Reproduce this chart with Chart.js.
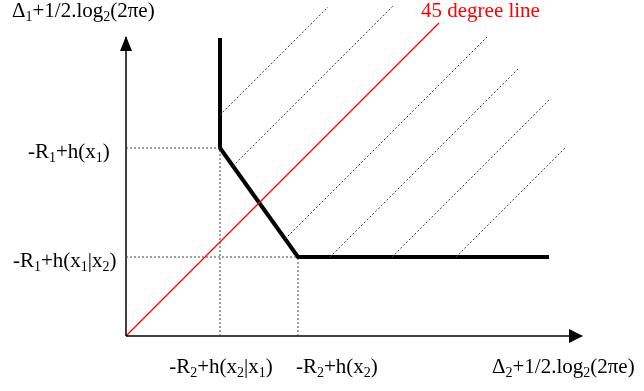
<!DOCTYPE html>
<html>
<head>
<meta charset="utf-8">
<script src="https://cdn.jsdelivr.net/npm/chart.js@4.4.1/dist/chart.umd.min.js"></script>
<style>
  html, body { margin: 0; padding: 0; background: #fff; }
  #wrap { width: 644px; height: 391px; position: relative; }
</style>
</head>
<body>
<div id="wrap"><canvas id="regionChart"></canvas></div>
<script>
// same unit on both axes, so the diagonal really is 45 degrees
const X_MAX = 518;
const Y_MAX = 336;
const xAxisEnd = 456;
const yAxisEnd = 299;

// corner points of the region + their labels ("_" = next char subscript)
const xTicks = [94, 172];
const yTicks = [188, 79];
const xTickLabels = ["-R_2+h(x_2|x_1)", "-R_2+h(x_2)"];
const yTickLabels = ["-R_1+h(x_1)", "-R_1+h(x_1|x_2)"];
const xTitle = "Δ_2+1/2.log_2(2πe)";
const yTitle = "Δ_1+1/2.log_2(2πe)";
const diagLabel = "45 degree line";

// region boundary (thick line)
const boundaryX = [94, 94, 172, 423];
const boundaryY = [298, 188, 79, 79];

// 45 degree line
const diagX = [0, 313];
const diagY = [0, 313];

// hatching: start on the boundary, run up to the right
const hatchX0 = [94, 107, 159, 204, 266, 330];
const hatchY0 = [221, 170, 97, 79, 79, 79];
const hatchX1 = [202, 267, 361, 393, 423, 439];
const hatchY1 = [329, 330, 299, 268, 236, 188];

const FONT = '"Liberation Serif", "Times New Roman", serif';

function seg(x0, y0, x1, y1, extra) {
  return Object.assign({
    data: [{ x: x0, y: y0 }, { x: x1, y: y1 }],
    showLine: true,
    pointRadius: 0,
    borderWidth: 1,
    borderColor: '#000',
    clip: false,
    fill: false
  }, extra);
}

function path(xs, ys, extra) {
  return Object.assign({
    data: xs.map((x, i) => ({ x, y: ys[i] })),
    showLine: true,
    pointRadius: 0,
    clip: false,
    fill: false
  }, extra);
}

const dotted = { borderColor: '#444', borderWidth: 1, borderDash: [2, 2] };

const datasets = [];
// dotted guides from the corners to the axes
xTicks.forEach((xv, i) => {
  datasets.push(seg(0, yTicks[i], xv, yTicks[i], dotted));
  datasets.push(seg(xv, 0, xv, yTicks[i], dotted));
});
// hatching
hatchX0.forEach((x0, i) => {
  datasets.push(seg(x0, hatchY0[i], hatchX1[i], hatchY1[i], { borderColor: '#444', borderWidth: 1, borderDash: [2, 2] }));
});
// axes
datasets.push(seg(0, 0, xAxisEnd, 0, { borderWidth: 1.5 }));
datasets.push(seg(0, 0, 0, yAxisEnd, { borderWidth: 1.5 }));
// diagonal
datasets.push(path(diagX, diagY, { borderColor: '#ff0000', borderWidth: 1.3 }));
// boundary
datasets.push(path(boundaryX, boundaryY, { borderColor: '#000', borderWidth: 4, borderJoinStyle: 'miter' }));

// text with single-char subscripts
function drawRich(ctx, str, x, y, align, color) {
  const parts = [];
  for (let i = 0; i < str.length; i++) {
    const last = parts[parts.length - 1];
    if (str[i] === '_') { parts.push({ t: str[i + 1], sub: true }); i++; }
    else if (last && !last.sub) last.t += str[i];
    else parts.push({ t: str[i], sub: false });
  }
  const fontOf = p => (p.sub ? '14px ' : '21px ') + FONT;
  let w = 0;
  parts.forEach(p => { ctx.font = fontOf(p); p.w = ctx.measureText(p.t).width; w += p.w; });
  let cx = align === 'center' ? x - w / 2 : align === 'right' ? x - w : x;
  ctx.fillStyle = color || '#000';
  ctx.textAlign = 'left';
  ctx.textBaseline = 'alphabetic';
  parts.forEach(p => {
    ctx.font = fontOf(p);
    ctx.fillText(p.t, cx, p.sub ? y + 4 : y);
    cx += p.w;
  });
}

// arrow heads at the ends of both axes
const arrowPlugin = {
  id: 'axisArrows',
  afterDatasetsDraw(chart) {
    const { ctx, scales: { x, y } } = chart;
    const x0 = x.getPixelForValue(0), y0 = y.getPixelForValue(0);
    const xt = x.getPixelForValue(xAxisEnd), yt = y.getPixelForValue(yAxisEnd);
    ctx.save();
    ctx.fillStyle = '#000';
    ctx.beginPath();
    ctx.moveTo(xt + 1, y0);
    ctx.lineTo(xt - 13, y0 - 7);
    ctx.lineTo(xt - 13, y0 + 7);
    ctx.closePath();
    ctx.fill();
    ctx.beginPath();
    ctx.moveTo(x0, yt - 1);
    ctx.lineTo(x0 - 6, yt + 14);
    ctx.lineTo(x0 + 6, yt + 14);
    ctx.closePath();
    ctx.fill();
    ctx.restore();
  }
};

const labelPlugin = {
  id: 'richLabels',
  afterDraw(chart) {
    const { ctx, scales: { x, y } } = chart;
    const opts = chart.options.plugins.richLabels;
    ctx.save();
    yTickLabels.forEach((t, i) => {
      drawRich(ctx, t, opts.yLabelLeft[i], y.getPixelForValue(yTicks[i]) + 9.5, 'left');
    });
    xTickLabels.forEach((t, i) => {
      const a = opts.xLabelAnchor[i];
      drawRich(ctx, t, x.getPixelForValue(xTicks[i]) + a.dx, opts.xLabelBaseline, a.align);
    });
    drawRich(ctx, xTitle, opts.xTitlePos[0], opts.xTitlePos[1], 'left');
    drawRich(ctx, yTitle, opts.yTitlePos[0], opts.yTitlePos[1], 'left');
    // label at the top of the diagonal
    const dx = x.getPixelForValue(diagX[1]), dy = y.getPixelForValue(diagY[1]);
    drawRich(ctx, diagLabel, dx - 18, dy - 6, 'left', '#ff0000');
    ctx.restore();
  }
};

new Chart(document.getElementById('regionChart'), {
  type: 'scatter',
  data: { datasets },
  options: {
    responsive: true,
    maintainAspectRatio: false,
    animation: false,
    layout: { padding: { left: 126, right: 0, top: 0, bottom: 55 } },
    scales: {
      x: { type: 'linear', min: 0, max: X_MAX, display: false },
      y: { type: 'linear', min: 0, max: Y_MAX, display: false }
    },
    plugins: {
      legend: { display: false },
      tooltip: { enabled: false },
      richLabels: {
        yLabelLeft: [28, 13],
        xLabelAnchor: [{ dx: 1, align: 'center' }, { dx: -2, align: 'left' }],
        xLabelBaseline: 373,
        xTitlePos: [492, 373],
        yTitlePos: [12, 17]
      }
    }
  },
  plugins: [arrowPlugin, labelPlugin]
});
</script>
</body>
</html>
